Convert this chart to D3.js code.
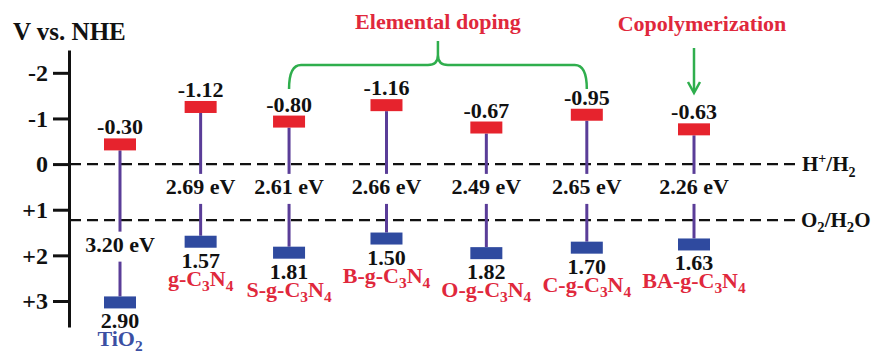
<!DOCTYPE html>
<html>
<head>
<meta charset="utf-8">
<script src="https://cdn.jsdelivr.net/npm/d3@7"></script>
<style>
  body { margin: 0; background: #fff; }
  svg text { font-family: "Liberation Serif", "Times New Roman", serif; font-weight: bold; }
</style>
</head>
<body>
<svg id="chart" width="876" height="353"></svg>
<script>
// band positions vs NHE (V)
const materials = ["TiO2", "g-C3N4", "S-g-C3N4", "B-g-C3N4", "O-g-C3N4", "C-g-C3N4", "BA-g-C3N4"];
const cbValues = [-0.30, -1.12, -0.80, -1.16, -0.67, -0.95, -0.63];
const vbValues = [2.90, 1.57, 1.81, 1.50, 1.82, 1.70, 1.63];
const gapLabels = ["3.20 eV", "2.69 eV", "2.61 eV", "2.66 eV", "2.49 eV", "2.65 eV", "2.26 eV"];
const yTicks = [-2, -1, 0, 1, 2, 3];
const redoxLevels = [0, 1.23];
const dopedGroup = ["S-g-C3N4", "C-g-C3N4"];
const copolymer = "BA-g-C3N4";

const RED = "#e6232d", BLUE = "#2f4a9f", PURPLE = "#5a3d98", GREEN = "#2fae4d", LABEL_RED = "#e0283c";
const FS = 22;

const svg = d3.select("#chart");
const y = d3.scaleLinear().domain([-2.5, 3.57]).range([50, 327]);

const data = materials.map((m, i) => ({ name: m, cb: cbValues[i], vb: vbValues[i], gap: gapLabels[i] }));

// writes a chemical formula with digits as subscripts
function formula(sel, str, size) {
  const parts = str.match(/[0-9]+|[^0-9]+/g);
  let sub = false;
  parts.forEach(p => {
    const isNum = /^[0-9]+$/.test(p);
    const t = sel.append("tspan").text(p);
    if (isNum) { t.attr("font-size", size * 0.7).attr("dy", sub ? 0 : 5); sub = true; }
    else { t.attr("dy", sub ? -5 : 0); sub = false; }
  });
}

// redox lines
svg.selectAll(".redox").data(redoxLevels).enter().append("line")
  .attr("x1", 70).attr("x2", 800)
  .attr("y1", d => y(d)).attr("y2", d => y(d))
  .attr("stroke", "#111").attr("stroke-width", 2.2).attr("stroke-dasharray", "11,6");

// H+/H2 label
const h = svg.append("text").attr("x", 802).attr("y", y(0) + 7).attr("font-size", 21).attr("fill", "#111");
h.append("tspan").text("H");
h.append("tspan").text("+").attr("font-size", 14).attr("dy", -8);
h.append("tspan").text("/H").attr("dy", 8);
h.append("tspan").text("2").attr("font-size", 14).attr("dy", 6);

const o = svg.append("text").attr("x", 801).attr("y", y(1.23) + 7).attr("font-size", 21).attr("fill", "#111");
formula(o, "O2/H2O", 21);

// y axis
const yAxis = svg.append("g").attr("transform", "translate(69,0)")
  .call(d3.axisLeft(y).tickValues(yTicks).tickSize(16).tickSizeOuter(0).tickPadding(5)
    .tickFormat(d => d > 0 ? "+" + d : String(d)));
yAxis.select(".domain").attr("stroke", "#111").attr("stroke-width", 3);
yAxis.selectAll(".tick line").attr("stroke", "#111").attr("stroke-width", 3);
yAxis.selectAll(".tick text").attr("font-size", 24).attr("fill", "#111")
  .attr("font-family", "Liberation Serif, serif").attr("font-weight", "bold");

svg.append("text").attr("x", 13).attr("y", 40).attr("font-size", 25).attr("fill", "#111").text("V vs. NHE");

const barW = 32, barH = 12;

// gap label sits between the redox lines, or below O2/H2O when the VB is deep
function gapLabelY(d) {
  const v = d.vb > 2.5 ? (1.23 + d.vb) / 2 - 0.3 : 0.5;
  return y(v);
}

const g = svg.selectAll(".mat").data(data).enter().append("g").attr("class", "mat");

g.append("line")
  .attr("y1", d => y(d.cb)).attr("y2", d => gapLabelY(d) - 13)
  .attr("stroke", PURPLE).attr("stroke-width", 3);
g.append("line")
  .attr("y1", d => gapLabelY(d) + 17).attr("y2", d => y(d.vb))
  .attr("stroke", PURPLE).attr("stroke-width", 3);

g.append("rect")
  .attr("x", -barW / 2).attr("y", d => y(d.cb) - barH)
  .attr("width", barW).attr("height", barH).attr("fill", RED);
g.append("rect")
  .attr("x", -barW / 2).attr("y", d => y(d.vb))
  .attr("width", barW).attr("height", barH).attr("fill", BLUE);

g.append("text").attr("text-anchor", "middle").attr("font-size", FS).attr("fill", "#111")
  .attr("y", d => y(d.cb) - barH - 4)
  .text(d => d.cb.toFixed(2));
g.append("text").attr("text-anchor", "middle").attr("font-size", FS).attr("fill", "#111")
  .attr("y", d => y(d.vb) + barH + 20)
  .text(d => d.vb.toFixed(2));
const gapText = g.append("text").attr("text-anchor", "middle").attr("font-size", FS).attr("fill", "#111")
  .attr("y", d => gapLabelY(d) + 7)
  .text(d => d.gap);
const nameText = g.append("text").attr("text-anchor", "middle").attr("font-size", FS)
  .attr("fill", d => d.name === "TiO2" ? "#3b4fa3" : LABEL_RED)
  .attr("y", d => y(d.vb) + barH + 38)
  .each(function (d) { formula(d3.select(this), d.name, FS); });

// columns are spaced by the width of their widest label
const widths = data.map((d, i) => Math.max(nameText.nodes()[i].getBBox().width, gapText.nodes()[i].getBBox().width));
const slots = [0];
for (let i = 1; i < widths.length; i++) slots.push(slots[i - 1] + (widths[i - 1] + widths[i]) / 2 + 11);
const x = d3.scaleLinear().domain([0, slots[slots.length - 1]]).range([120, 694]);
const xOf = name => x(slots[materials.indexOf(name)]);
g.attr("transform", d => `translate(${xOf(d.name)},0)`);

// elemental doping brace
const x1 = xOf(dopedGroup[0]), x2 = xOf(dopedGroup[1]), mid = (x1 + x2) / 2;
const by = 65, bEnd = 89;
svg.append("path")
  .attr("d", `M${x1},${bEnd} Q${x1},${by} ${x1 + 12},${by} L${mid - 10},${by} Q${mid},${by} ${mid},${by - 10} L${mid},${by - 24}
              M${mid},${by - 10} Q${mid},${by} ${mid + 10},${by} L${x2 - 12},${by} Q${x2},${by} ${x2},${bEnd}`)
  .attr("fill", "none").attr("stroke", GREEN).attr("stroke-width", 2.5);
svg.append("text").attr("x", mid).attr("y", 29).attr("text-anchor", "middle")
  .attr("font-size", FS).attr("fill", LABEL_RED).text("Elemental doping");

// copolymerization arrow
const xa = xOf(copolymer);
svg.append("line").attr("x1", xa).attr("x2", xa).attr("y1", 48).attr("y2", 91)
  .attr("stroke", GREEN).attr("stroke-width", 2.5);
svg.append("path").attr("d", `M${xa - 6},${82} L${xa},${93} L${xa + 6},${82}`)
  .attr("fill", "none").attr("stroke", GREEN).attr("stroke-width", 2.5);
svg.append("text").attr("x", xa + 8).attr("y", 31).attr("text-anchor", "middle")
  .attr("font-size", FS).attr("fill", LABEL_RED).text("Copolymerization");
</script>
</body>
</html>
